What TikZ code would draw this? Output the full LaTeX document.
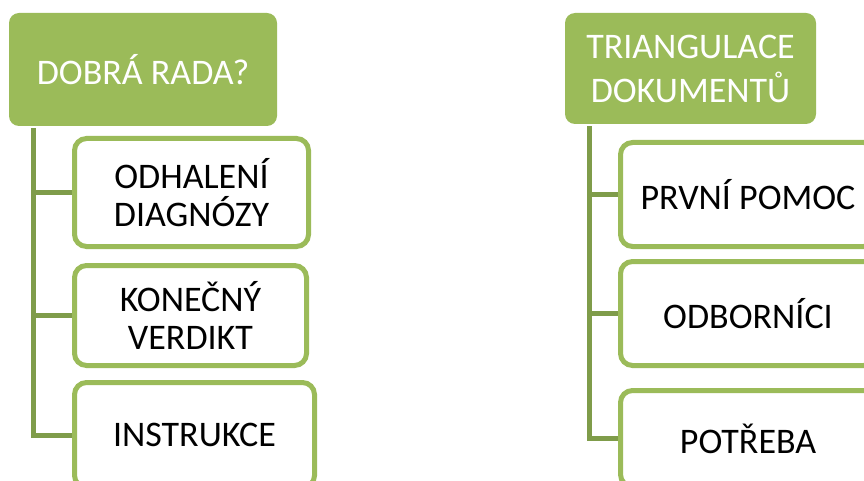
\documentclass[tikz,border=0pt]{standalone}
\usepackage{fontspec}
\setmainfont{Carlito}
\usepackage{tikz}
\usepackage{xcolor}
\definecolor{headgreen}{HTML}{9BBB59}
\definecolor{linkgreen}{HTML}{7F9C4A}

\begin{document}
\begin{tikzpicture}[x=1pt,y=-1pt,
    head/.style={fill=headgreen,rounded corners=10pt,text=white,align=center,
        inner sep=0pt,font=\fontsize{36}{44}\selectfont},
    item/.style={draw=headgreen,line width=5pt,fill=white,rounded corners=12pt,
        align=center,inner sep=0pt,font=\fontsize{36}{38}\selectfont},
    link/.style={draw=linkgreen,line width=5pt}]
    % Define parameters
    \def\picw{864}
    \def\pich{481}
    \def\linkx{24.5}
\useasboundingbox (0,0) rectangle (\picw,\pich);
\clip (0,0) rectangle (\picw,\pich);

% Left column
    \node[head,minimum width=268pt,minimum height=113pt] (lh) at (143,69.5) {DOBRÁ RADA?};
    \node[item,minimum width=234pt,minimum height=108pt] (l1) at (191.5,192.5) {ODHALENÍ\\DIAGNÓZY};
    \node[item,minimum width=232pt,minimum height=100pt] (l2) at (190.5,315.5) {KONEČNÝ\\VERDIKT};
    \node[item,minimum width=240pt,minimum height=105pt] (l3) at (194.5,435) {INSTRUKCE};

    \coordinate (lt) at ([xshift=\linkx pt,yshift=-2pt]lh.south west);
    \draw[link] (lt) |- (l3.west);
    \draw[link] (lt |- l1.west) -- (l1.west);
    \draw[link] (lt |- l2.west) -- (l2.west);

% Right column
    \node[head,minimum width=251pt,minimum height=111pt] (rh) at (690.5,68.5) {TRIANGULACE\\DOKUMENTŮ};
    \node[item,minimum width=255pt,minimum height=104pt] (r1) at (748,194.5) {PRVNÍ POMOC};
    \node[item,minimum width=255pt,minimum height=104pt] (r2) at (748,313.5) {ODBORNÍCI};
    \node[item,minimum width=255pt,minimum height=96pt] (r3) at (748,438.5) {POTŘEBA};

    \coordinate (rt) at ([xshift=\linkx pt,yshift=-2pt]rh.south west);
    \draw[link] (rt) |- (r3.west);
    \draw[link] (rt |- r1.west) -- (r1.west);
    \draw[link] (rt |- r2.west) -- (r2.west);

\end{tikzpicture}
\end{document}
